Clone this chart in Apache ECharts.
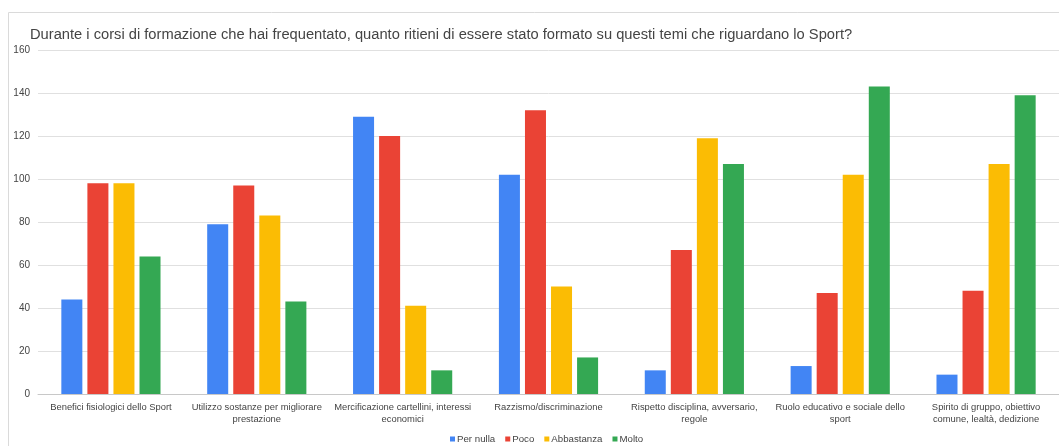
<!DOCTYPE html>
<html><head><meta charset="utf-8">
<script src="https://cdn.jsdelivr.net/npm/echarts@6/dist/echarts.min.js"></script>
<style>html,body{margin:0;padding:0;background:#fff}#c{width:1059px;height:446px}</style>
</head><body><div id="c"></div>
<script>
const titleText = "Durante i corsi di formazione che hai frequentato, quanto ritieni di essere stato formato su questi temi che riguardano lo Sport?";
const categories = [
  "Benefici fisiologici dello Sport",
  "Utilizzo sostanze per migliorare\nprestazione",
  "Mercificazione cartellini, interessi\neconomici",
  "Razzismo/discriminazione",
  "Rispetto disciplina, avversario,\nregole",
  "Ruolo educativo e sociale dello\nsport",
  "Spirito di gruppo, obiettivo\ncomune, lealtà, dedizione"
];
const seriesNames = ["Per nulla", "Poco", "Abbastanza", "Molto"];
const perNulla = [44, 79, 129, 102, 11, 13, 9];
const poco = [98, 97, 120, 132, 67, 47, 48];
const abbastanza = [98, 83, 41, 50, 119, 102, 107];
const molto = [64, 43, 11, 17, 107, 143, 139];
const colors = ["#4285F4", "#EA4335", "#FBBC04", "#34A853"];
const values = [perNulla, poco, abbastanza, molto];

const chart = echarts.init(document.getElementById('c'));
chart.setOption({
  animation: false,
  color: colors,
  textStyle: {fontFamily: "Liberation Sans, Arial, sans-serif"},
  graphic: [{type: 'rect', shape: {x: 8.5, y: 12.5, width: 1060, height: 440}, style: {fill: 'none', stroke: '#dadada', lineWidth: 1}, silent: true}],
  title: {text: titleText, left: 25, top: 22, textStyle: {fontSize: 14.7, fontWeight: 'normal', color: '#444'}},
  legend: {data: seriesNames, top: 429, left: 445, itemWidth: 5, itemHeight: 5, itemGap: 10, icon: 'rect',
    textStyle: {fontSize: 9.7, color: '#444', padding: [0,0,0,-3]}},
  grid: {left: 38, right: -2, top: 50, bottom: 52},
  xAxis: {type: 'category', data: categories,
    axisLine: {lineStyle: {color: '#c8c8c8'}}, axisTick: {show: false},
    axisLabel: {fontSize: 9.4, color: '#444', interval: 0, lineHeight: 11.5, margin: 8}},
  yAxis: {type: 'value', min: 0, max: 160, interval: 20,
    axisLine: {show: false}, axisTick: {show: false},
    splitLine: {lineStyle: {color: '#e0e0e0'}},
    axisLabel: {fontSize: 10, color: '#444', margin: 8}},
  series: seriesNames.map((n, i) => ({name: n, type: 'bar', data: values[i], barGap: '24%', barCategoryGap: '32%'}))
});
</script></body></html>
